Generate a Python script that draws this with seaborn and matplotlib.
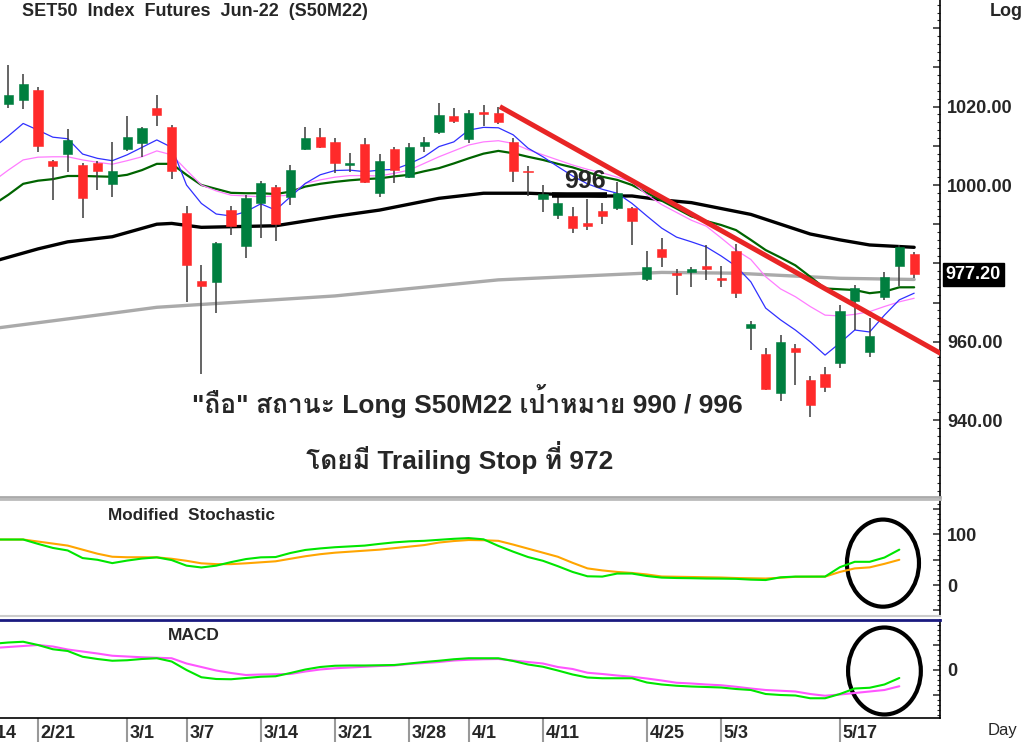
import numpy as np
import pandas as pd
import seaborn as sns
import matplotlib
matplotlib.use('Agg')
import matplotlib.pyplot as plt
from matplotlib.patches import Ellipse
from matplotlib import font_manager
from matplotlib.ft2font import FT2Font

# velas diarias (indice 0 = 2/17 ... 61 = 5/24)
opens = [1020.7, 1021.7, 1024.2, 1006.2, 1008.0, 1005.1, 1005.5, 1000.2, 1009.1, 1010.6,
         1019.7, 1014.9, 992.8, 975.6, 975.3, 993.6, 984.5, 995.3, 999.6, 997.0,
         1009.1, 1012.3, 1011.0, 1005.1, 1010.5, 997.9, 1009.1, 1002.1, 1009.9, 1013.6,
         1017.7, 1011.7, 1018.6, 1018.4, 1011.0, 1003.5, 996.4, 992.3, 992.1, 990.4,
         993.4, 994.1, 994.1, 975.9, 983.6, 977.5, 977.9, 979.3, 976.1, 983.2,
         963.4, 956.8, 947.0, 958.3, 950.3, 951.8, 954.5, 970.5, 957.3, 971.5,
         979.4, 982.4]
highs = [1030.6, 1028.2, 1024.9, 1006.5, 1014.3, 1005.5, 1006.0, 1011.0, 1017.6, 1014.9,
         1023.0, 1015.2, 994.6, 979.6, 985.5, 994.6, 997.4, 1001.0, 1000.0, 1005.1,
         1014.9, 1014.5, 1011.9, 1008.1, 1011.9, 1007.9, 1009.8, 1010.6, 1012.3, 1020.8,
         1019.6, 1019.1, 1020.4, 1020.0, 1011.9, 1004.8, 1000.0, 996.9, 994.5, 996.4,
         995.5, 1000.8, 994.5, 983.2, 986.4, 978.5, 979.2, 984.7, 979.3, 984.9,
         965.4, 958.3, 961.7, 959.4, 951.3, 953.5, 969.4, 974.5, 966.0, 977.9,
         984.7, 983.0]
lows = [1019.6, 1019.3, 1008.5, 996.2, 1003.2, 991.5, 998.7, 997.0, 1008.8, 1007.2,
        1015.1, 1001.5, 970.2, 951.8, 967.4, 987.2, 981.3, 986.4, 985.8, 994.9,
        1008.9, 1009.4, 1003.0, 1003.4, 1000.6, 996.9, 1000.6, 1001.7, 1008.5, 1013.0,
        1015.7, 1010.6, 1015.1, 1015.5, 1000.8, 997.2, 993.2, 991.3, 987.7, 988.5,
        990.1, 993.6, 984.7, 975.6, 979.2, 971.9, 974.1, 975.8, 973.9, 971.1,
        957.9, 947.8, 945.0, 949.0, 940.7, 947.3, 953.2, 963.0, 956.2, 970.7,
        974.2, 976.4]
closes = [1023.0, 1025.7, 1009.9, 1004.9, 1011.5, 996.6, 1003.6, 1003.6, 1012.2, 1014.5,
          1017.9, 1003.6, 979.6, 974.3, 985.3, 989.6, 996.6, 1000.4, 990.0, 1003.8,
          1012.1, 1009.6, 1005.5, 1005.7, 1000.8, 1006.2, 1003.8, 1009.6, 1011.0, 1017.9,
          1016.4, 1018.4, 1018.1, 1016.1, 1003.6, 1003.2, 997.7, 995.5, 989.0, 989.5,
          992.1, 998.0, 990.9, 979.0, 981.7, 977.1, 978.6, 978.6, 975.8, 972.4,
          964.5, 948.0, 959.9, 957.5, 943.9, 948.4, 967.9, 973.6, 961.6, 976.5,
          984.3, 977.2]

# promedios moviles (indice -1 .. 61)
ma_blue = [1009.5, 1012.5, 1015.7, 1014.0, 1012.2, 1011.8, 1007.9, 1006.8, 1006.2, 1007.7,
           1009.6, 1011.5, 1009.6, 1000.0, 995.3, 992.6, 992.1, 993.2, 995.2, 993.6,
           997.0, 1000.4, 1002.6, 1003.7, 1003.8, 1003.4, 1003.8, 1004.0, 1005.4, 1007.2,
           1009.8, 1011.0, 1014.0, 1014.7, 1014.6, 1012.8, 1009.4, 1007.2, 1004.7, 1002.3,
           1000.3, 998.9, 997.9, 995.3, 992.1, 989.0, 986.7, 985.5, 984.2, 981.9,
           979.3, 975.3, 968.6, 965.6, 963.0, 960.0, 956.6, 959.7, 963.0, 962.5,
           966.8, 970.7, 972.4]
ma_pink = [1001.0, 1003.8, 1006.4, 1007.1, 1007.2, 1007.2, 1006.4, 1005.8, 1005.3, 1006.2,
           1007.2, 1008.7, 1007.7, 1003.8, 1000.0, 998.5, 997.4, 997.2, 997.0, 997.2,
           997.4, 1000.4, 1001.3, 1002.0, 1002.4, 1002.4, 1002.3, 1003.0, 1003.8, 1005.5,
           1007.2, 1008.7, 1010.2, 1011.0, 1011.3, 1010.6, 1009.0, 1007.7, 1006.4, 1005.1,
           1004.0, 1003.1, 1002.0, 1000.8, 997.5, 995.0, 993.0, 991.0, 989.5, 986.5,
           983.4, 981.0, 976.6, 973.5, 971.5, 969.0, 966.8, 966.6, 967.0, 967.7,
           969.0, 970.2, 971.1]
ma_green = [995.0, 997.5, 1000.3, 1001.1, 1001.5, 1002.3, 1002.3, 1002.2, 1002.1, 1002.6,
            1003.8, 1005.4, 1005.4, 1002.6, 1000.0, 999.0, 998.0, 997.9, 997.9, 997.7,
            998.3, 999.6, 1000.3, 1000.8, 1001.2, 1001.5, 1001.7, 1002.2, 1002.6, 1003.5,
            1004.3, 1005.5, 1006.8, 1008.0, 1008.7, 1008.1, 1007.2, 1006.4, 1005.4, 1004.5,
            1003.3, 1002.1, 1001.3, 1000.0, 998.0, 996.0, 994.0, 992.0, 990.8, 989.8,
            988.5, 986.0, 983.4, 981.5, 979.5, 976.6, 973.6, 973.4, 973.2, 972.4,
            972.8, 973.9, 973.9]
black_idx = [-1, 2, 4, 7, 10, 11, 13, 18, 22, 25, 29, 32, 35, 40, 42, 44, 46, 48, 50, 52, 54, 56, 58, 61]
black_val = [980.5, 983.7, 985.5, 986.8, 990.0, 990.2, 989.2, 989.6, 992.0, 993.6, 996.6, 997.9,
             997.9, 997.2, 997.2, 996.2, 995.5, 994.0, 992.5, 990.0, 987.5, 986.0, 984.7, 984.1]
gray_idx = [-1, 7, 10, 22, 33, 44, 49, 56, 61]
gray_val = [963.4, 967.3, 968.8, 971.7, 975.8, 977.7, 977.5, 976.2, 975.9]

# linea de tendencia y nivel 996
trend_x = [33.1, 62.8]
trend_y = [1020.0, 957.0]
level_x = [36.6, 40.3]
level_y = 997.5

# indicadores (indice -1 .. 60)
stoch_k = [90, 90, 90, 81.4, 73.4, 68.4, 53.4, 50, 43.4, 48.4, 52.4, 54.8, 49.4, 38.4, 34.8,
           38.4, 45.4, 51.4, 54.8, 55.4, 63.4, 69.4, 72.4, 74.8, 76.4, 78, 81.4, 84.4, 86.4,
           87.4, 89.4, 91.4, 92.8, 90.4, 77.4, 66, 55.4, 48, 37.4, 26, 17.4, 16.8, 22.8, 22.8,
           18, 14.8, 14, 13.6, 13, 12.8, 12.4, 10.8, 10, 15.4, 16.8, 16.8, 16.8, 35.4, 46, 46,
           54.4, 70]
stoch_d = [90, 90, 90, 86, 82, 78, 70, 62, 56, 55, 55, 54.8, 52, 48, 43, 41.4, 41.4, 43, 45,
           47, 52, 57, 61, 64, 66, 68, 70, 73, 76, 79, 84, 87, 89, 88.6, 87.4, 80, 72, 64, 56,
           44, 33, 29, 26, 24, 21, 17, 16.5, 16, 15.5, 15, 14, 13.5, 13, 14.5, 16.4, 16.6, 16.8,
           26, 33, 35, 42, 50]
macd_line = [10.5, 11, 11.3, 10, 8.3, 7.6, 5.3, 4.4, 3.7, 3.9, 4.4, 4.7, 3.4, 0, -2.9, -3.6,
             -3.7, -3.2, -2.7, -2.5, -1.2, 0.2, 1.2, 1.7, 1.8, 1.8, 1.9, 2, 2.6, 3.2, 3.7, 4.3,
             4.7, 4.7, 4.7, 3.6, 2.2, 1.3, -0.2, -1.8, -3, -3.3, -3.3, -3.3, -5, -5.8, -6.3,
             -6.6, -6.8, -7, -7.6, -8, -9.6, -10, -10.2, -11.3, -11.3, -9.6, -7.4, -7.1, -5.8,
             -3.2]
macd_signal = [8.8, 9.2, 9.6, 10, 9.4, 8.2, 7.4, 6.6, 5.7, 5.4, 5.1, 4.9, 4.7, 2.6, 1.2, -0.2,
               -1.2, -2, -1.8, -1.7, -1.6, -0.6, 0.2, 0.7, 1, 1.3, 1.6, 1.8, 2.4, 2.8, 3.2, 3.8,
               4.1, 4.3, 4.4, 3.8, 3.2, 2.6, 1.2, 0.4, -1.1, -1.6, -2.2, -2.7, -3.4, -4.2, -5.1,
               -5.4, -5.8, -6.1, -6.7, -7.4, -8, -8.3, -8.6, -9.6, -10.3, -9.8, -9.2, -8.6, -8,
               -6.5]

date_idx = [-2, 2, 8, 12, 17, 22, 27, 31, 36, 43, 48, 56]
date_labels = ['2/14', '2/21', '3/1', '3/7', '3/14', '3/21', '3/28', '4/1',
               '4/11', '4/25', '5/3', '5/17']


def fuente_thai():
    # busca una fuente instalada que tenga glifos tailandeses
    for f in font_manager.fontManager.ttflist:
        try:
            if ord('ถ') in FT2Font(f.fname).get_charmap():
                return f.name
        except Exception:
            pass
    return None


def estilo_panel(ax, major, minor, labels):
    ax.yaxis.tick_right()
    ax.set_yticks(major)
    ax.set_yticklabels(labels)
    ax.set_yticks(minor, minor=True)
    ax.tick_params(axis='y', which='major', direction='in', length=5, width=1.1,
                   pad=5, labelsize=13, right=True, left=False)
    ax.tick_params(axis='y', which='minor', direction='in', length=2.5, width=0.8,
                   right=True, left=False)
    for lab in ax.get_yticklabels():
        lab.set_fontweight('bold')
    ax.spines['left'].set_visible(False)
    ax.spines['right'].set_color('black')
    ax.spines['right'].set_linewidth(1.2)
    ax.set_xlim(-0.56, 62.74)
    ax.set_xlabel('')
    ax.set_ylabel('')


sns.set_theme(style='white')
thai = fuente_thai()
familia = ['Liberation Sans', 'DejaVu Sans']
if thai:
    familia = ['Liberation Sans', thai, 'DejaVu Sans']
plt.rcParams['font.family'] = familia

W, H = 1024, 743
fig = plt.figure(figsize=(W / 100, H / 100), dpi=100)
ax = fig.add_axes([0, 1 - 497 / H, 940 / W, 497 / H])
ax_st = fig.add_axes([0, 1 - 616 / H, 940 / W, 117 / H])
ax_md = fig.add_axes([0, 1 - 718 / H, 940 / W, 98 / H])

# ---- panel de precios ----
df = pd.DataFrame({'i': np.arange(len(opens)), 'open': opens, 'high': highs,
                   'low': lows, 'close': closes})
ma_i = np.arange(-1, len(ma_blue) - 1)

sns.lineplot(x=gray_idx, y=gray_val, ax=ax, color='#aaaaaa', lw=2.4, estimator=None, zorder=2)
sns.lineplot(x=black_idx, y=black_val, ax=ax, color='black', lw=2.4, estimator=None, zorder=2)
sns.lineplot(x=ma_i, y=ma_green, ax=ax, color='#006400', lw=1.6, estimator=None, zorder=2)
sns.lineplot(x=ma_i, y=ma_pink, ax=ax, color='#ff7cff', lw=0.9, estimator=None, zorder=2)
sns.lineplot(x=ma_i, y=ma_blue, ax=ax, color='#3030ff', lw=0.9, estimator=None, zorder=2)

sube = df['close'] >= df['open']
colores = np.where(sube, '#007f3f', '#ff2a2a')
cuerpo_lo = np.minimum(df['open'], df['close'])
cuerpo_h = np.maximum((df['close'] - df['open']).abs(), 0.35)
ax.vlines(df['i'], df['low'], df['high'], color='#3a3a3a', lw=1.1, zorder=3)
ax.bar(df['i'], cuerpo_h, bottom=cuerpo_lo, width=0.62, color=colores,
       edgecolor=colores, lw=0.4, zorder=4)

ax.plot(trend_x, trend_y, color='#e82525', lw=3.6, solid_capstyle='butt', zorder=5)
ax.hlines(level_y, level_x[0], level_x[1], color='black', lw=4, zorder=5)
ax.text(38.8, 1001.0, '996', fontsize=18, fontweight='bold', ha='center', va='center', zorder=6)

ax.set_ylim(920.4, 1047.2)
estilo_panel(ax, np.arange(930, 1041, 10), np.arange(922, 1047, 2),
             ['', '940.00', '', '960.00', '', '', '', '1000.00', '', '1020.00', '', ''])
ax.spines['top'].set_visible(False)
ax.spines['bottom'].set_color('#aaaaaa')
ax.spines['bottom'].set_linewidth(2)
ax.set_xticks([])

ax.text(1.006, closes[-1], f'{closes[-1]:.2f}', transform=ax.get_yaxis_transform(),
        color='white', fontsize=13, fontweight='bold', ha='left', va='center',
        bbox=dict(boxstyle='square,pad=0.15', fc='black', ec='black'), clip_on=False, zorder=7)

# ---- estocastico ----
ind_i = np.arange(-1, len(stoch_k) - 1)
sns.lineplot(x=ind_i, y=stoch_d, ax=ax_st, color='#ffa500', lw=1.5, estimator=None)
sns.lineplot(x=ind_i, y=stoch_k, ax=ax_st, color='#00e600', lw=1.5, estimator=None)
ax_st.add_patch(Ellipse((58.9, 43.4), 4.85, 172, fill=False, ec='black', lw=3, clip_on=False))
ax_st.set_ylim(-61, 170)
estilo_panel(ax_st, [-50, 0, 50, 100, 150], np.arange(-60, 171, 10), ['', '0', '', '100', ''])
ax_st.spines['top'].set_color('#bbbbbb')
ax_st.spines['top'].set_linewidth(2)
ax_st.spines['bottom'].set_color('#cccccc')
ax_st.spines['bottom'].set_linewidth(1.5)
ax_st.set_xticks([])

# ---- MACD ----
sns.lineplot(x=ind_i, y=macd_signal, ax=ax_md, color='#ff55ff', lw=1.5, estimator=None)
sns.lineplot(x=ind_i, y=macd_line, ax=ax_md, color='#00e600', lw=1.5, estimator=None)
ax_md.add_patch(Ellipse((59.0, -0.4), 4.9, 34.8, fill=False, ec='black', lw=3, clip_on=False))
ax_md.set_ylim(-19.2, 20)
estilo_panel(ax_md, [-10, 0, 10], np.arange(-18, 20, 2), ['', '0', ''])
ax_md.spines['top'].set_color('#1a1a80')
ax_md.spines['top'].set_linewidth(2)
ax_md.spines['bottom'].set_color('black')
ax_md.spines['bottom'].set_linewidth(1.2)
ax_md.set_xticks([d for d in date_idx if d >= 0])
ax_md.tick_params(axis='x', which='major', direction='out', length=17, width=1.5,
                  color='#999999', labelbottom=False, bottom=True)
for d, lab in zip(date_idx, date_labels):
    ax_md.text(d + 0.18, -0.07, lab, transform=ax_md.get_xaxis_transform(),
               fontsize=13, fontweight='bold', ha='left', va='top', clip_on=False)

# ---- textos ----
fig.text(22 / W, 1 - 11 / H, 'SET50  Index  Futures  Jun-22  (S50M22)', fontsize=13,
         fontweight='bold', ha='left', va='center')
fig.text(990 / W, 1 - 11 / H, 'Log', fontsize=13, fontweight='bold', ha='left', va='center')
fig.text(988 / W, 1 - 730 / H, 'Day', fontsize=12, ha='left', va='center')
fig.text(108 / W, 1 - 516 / H, 'Modified  Stochastic', fontsize=12.3, fontweight='bold',
         ha='left', va='center')
fig.text(168 / W, 1 - 635 / H, 'MACD', fontsize=12.5, fontweight='bold', ha='left', va='center')
fig.text(467 / W, 1 - 401 / H, '"ถือ" สถานะ Long S50M22 เป้าหมาย 990 / 996', fontsize=19,
         fontweight='bold', ha='center', va='center')
fig.text(460 / W, 1 - 458 / H, 'โดยมี Trailing Stop ที่ 972', fontsize=19,
         fontweight='bold', ha='center', va='center')

fig.savefig('out.png', dpi=100)
